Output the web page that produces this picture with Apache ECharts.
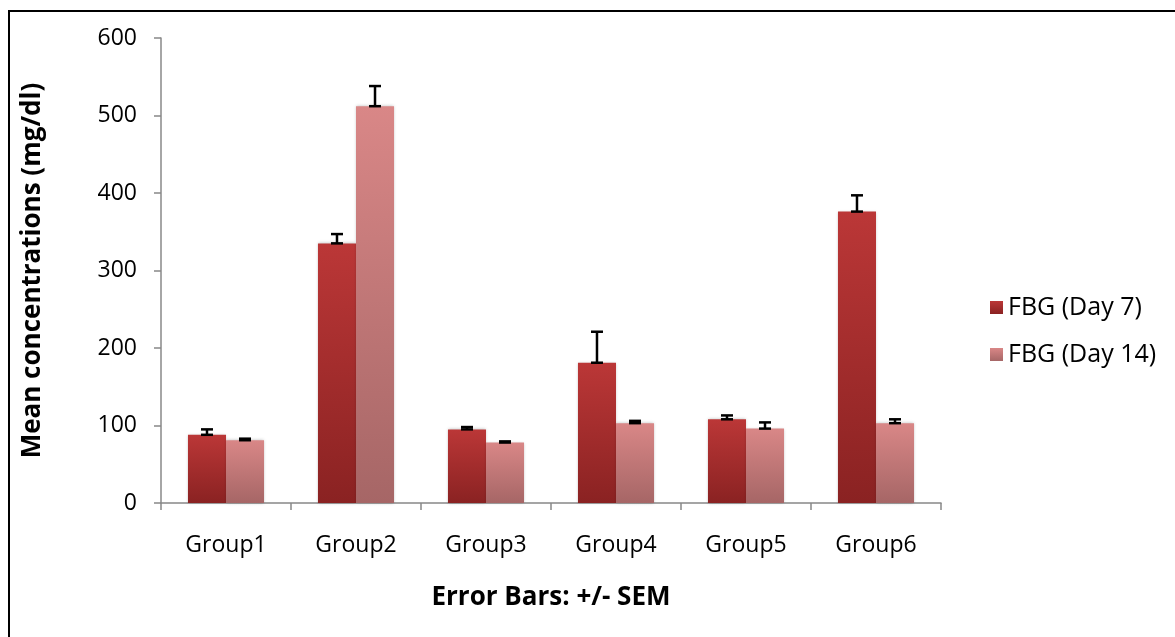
<!DOCTYPE html>
<html>
<head>
<meta charset="utf-8">
<script src="https://cdn.jsdelivr.net/npm/echarts@6/dist/echarts.min.js"></script>
<style>
  html, body { margin: 0; padding: 0; background: #fff; }
  #chart { width: 1175px; height: 637px; }
</style>
</head>
<body>
<div id="chart"></div>
<script>
const categories = ['Group1', 'Group2', 'Group3', 'Group4', 'Group5', 'Group6'];
const day7 = [88, 335, 95, 181, 108, 376];
const day7Sem = [7, 12, 3, 40, 5, 21];
const day14 = [81, 512, 78, 103, 96, 103];
const day14Sem = [2, 26, 1.5, 3, 8, 5];
const yTicks = [0, 100, 200, 300, 400, 500, 600];

const FONT = '"Open Sans", sans-serif';
const CAT_GAP = 0.415;

const myChart = echarts.init(document.getElementById('chart'));

// plus-only error bar drawn over a bar; side = -1 for left bar, +1 for right bar
const errorBar = (side) => (params, api) => {
  const idx = api.value(0);
  const mean = api.value(1);
  const sem = api.value(2);
  const band = api.size([1, 0])[0];
  const barW = band * (1 - CAT_GAP) / 2;
  const base = api.coord([idx, mean]);
  const x = base[0] + side * barW / 2;
  const lo = base[1];
  const hi = api.coord([idx, mean + sem])[1];
  const cap = 6;
  const style = { stroke: '#000', lineWidth: 2.5 };
  return {
    type: 'group',
    children: [
      { type: 'line', shape: { x1: x, y1: hi, x2: x, y2: lo }, style },
      { type: 'line', shape: { x1: x - cap, y1: hi, x2: x + cap, y2: hi }, style },
      { type: 'line', shape: { x1: x - cap, y1: lo, x2: x + cap, y2: lo }, style }
    ]
  };
};

const grad = (top, bottom) => new echarts.graphic.LinearGradient(0, 0, 0, 1, [
  { offset: 0, color: top },
  { offset: 1, color: bottom }
]);

const option = {
  backgroundColor: '#fff',
  animation: false,
  textStyle: { fontFamily: FONT },
  graphic: [
    {
      type: 'rect',
      left: 8,
      top: 10,
      shape: { width: 1300, height: 800 },
      style: { fill: 'transparent', stroke: '#000', lineWidth: 2 },
      silent: true,
      z: -10
    }
  ],
  grid: {
    left: 161,
    top: 38,
    right: 234,
    bottom: 134,
    containLabel: false
  },
  legend: {
    orient: 'vertical',
    left: 985,
    top: 290,
    itemWidth: 13,
    itemHeight: 13,
    itemGap: 22,
    icon: 'rect',
    textStyle: { fontSize: 25, color: '#000', fontFamily: FONT },
    data: ['FBG (Day 7)', 'FBG (Day 14)']
  },
  xAxis: {
    type: 'category',
    data: categories,
    name: 'Error Bars: +/- SEM',
    nameLocation: 'middle',
    nameGap: 82,
    nameTextStyle: { fontSize: 26, fontWeight: 'bold', color: '#000', fontFamily: FONT },
    axisLine: { lineStyle: { color: '#888', width: 1.5 } },
    axisTick: { show: true, length: 7, lineStyle: { color: '#888', width: 1.5 } },
    axisLabel: { fontSize: 23, color: '#000', margin: 31, fontFamily: FONT }
  },
  yAxis: {
    type: 'value',
    min: 0,
    max: 600,
    interval: 100,
    name: 'Mean concentrations (mg/dl)',
    nameLocation: 'middle',
    nameGap: 115,
    nameTextStyle: { fontSize: 26, fontWeight: 'bold', color: '#000', fontFamily: FONT },
    axisLine: { show: true, lineStyle: { color: '#888', width: 1.5 } },
    axisTick: { show: true, length: 7, lineStyle: { color: '#888', width: 1.5 } },
    axisLabel: {
      fontSize: 23,
      color: '#000',
      margin: 24,
      fontFamily: FONT,
      formatter: (v) => (yTicks.includes(v) ? String(v) : '')
    },
    splitLine: { show: false }
  },
  series: [
    {
      name: 'FBG (Day 7)',
      type: 'bar',
      barGap: '0%',
      barCategoryGap: (CAT_GAP * 100) + '%',
      itemStyle: {
        color: grad('#bb3737', '#8a2222'),
        shadowColor: 'rgba(0,0,0,0.25)',
        shadowBlur: 3
      },
      data: day7
    },
    {
      name: 'FBG (Day 14)',
      type: 'bar',
      barGap: '0%',
      barCategoryGap: (CAT_GAP * 100) + '%',
      itemStyle: {
        color: grad('#d98787', '#a66666'),
        shadowColor: 'rgba(0,0,0,0.25)',
        shadowBlur: 3
      },
      data: day14
    },
    {
      type: 'custom',
      renderItem: errorBar(-1),
      encode: { x: 0, y: 1 },
      z: 10,
      silent: true,
      data: day7.map((v, i) => [i, v, day7Sem[i]])
    },
    {
      type: 'custom',
      renderItem: errorBar(1),
      encode: { x: 0, y: 1 },
      z: 10,
      silent: true,
      data: day14.map((v, i) => [i, v, day14Sem[i]])
    }
  ]
};

myChart.setOption(option);
window.addEventListener('resize', () => myChart.resize());
</script>
</body>
</html>
